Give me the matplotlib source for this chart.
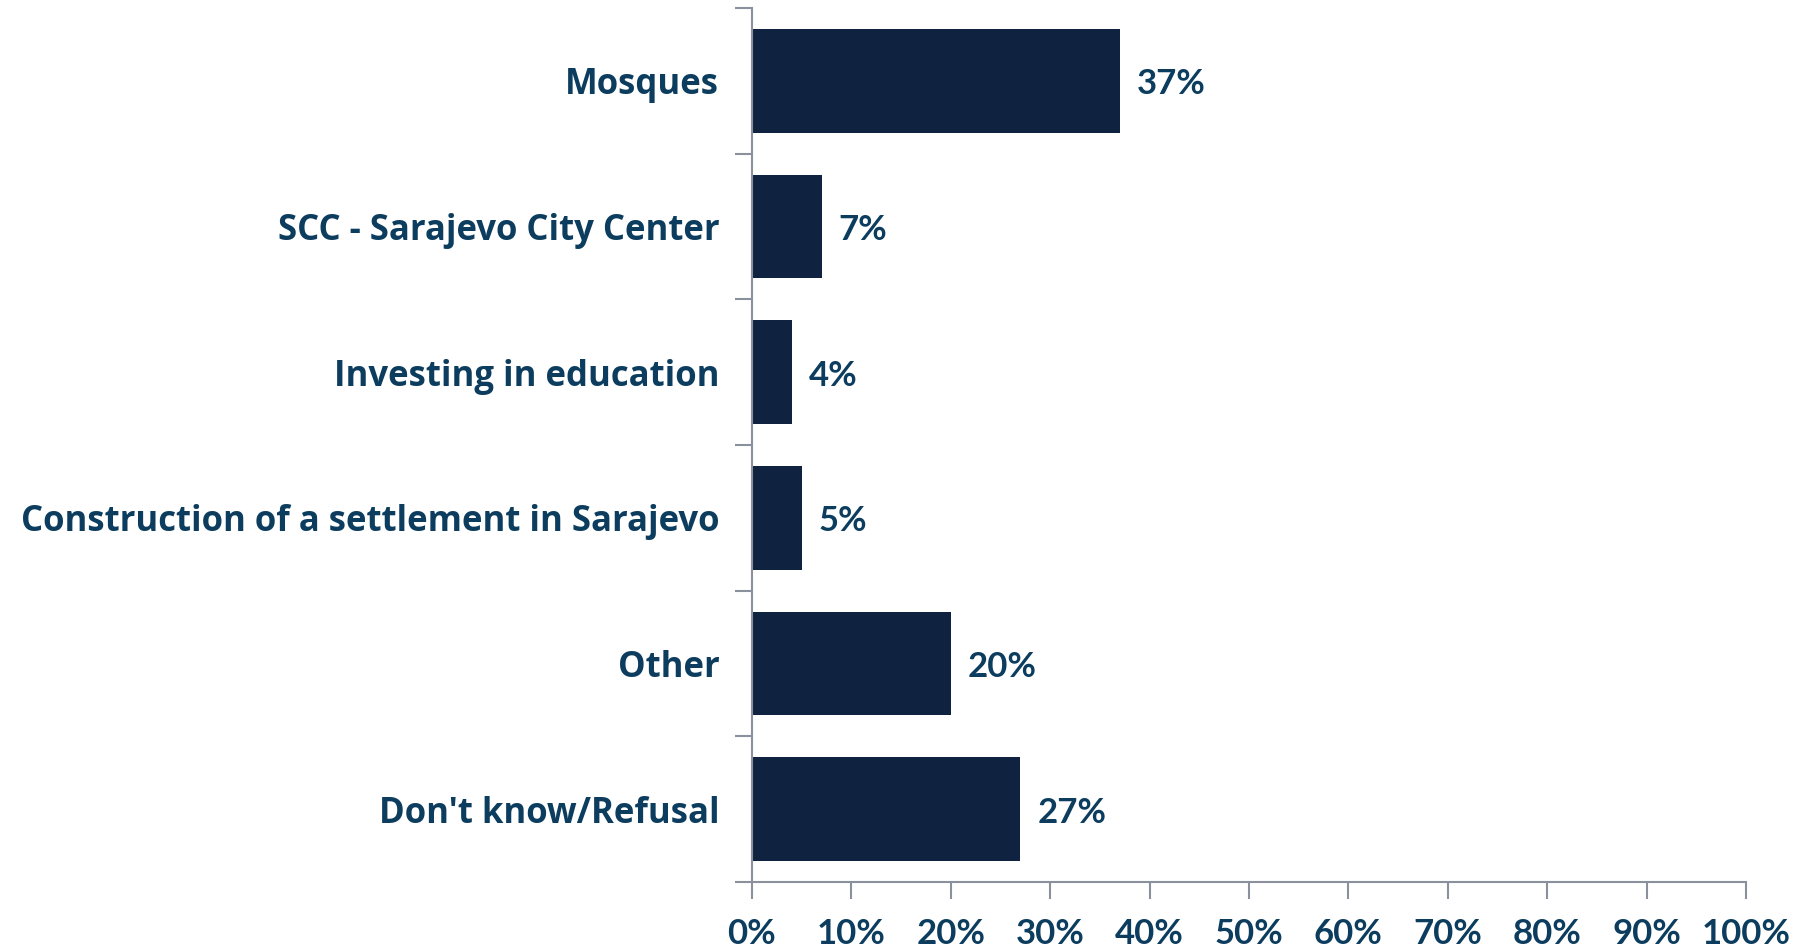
import matplotlib
matplotlib.use("Agg")
import matplotlib.pyplot as plt
from matplotlib.ticker import FixedLocator, PercentFormatter

categories = [
    "Mosques",
    "SCC - Sarajevo City Center",
    "Investing in education",
    "Construction of a settlement in Sarajevo",
    "Other",
    "Don't know/Refusal",
]
values = [37, 7, 4, 5, 20, 27]
x_ticks = [0, 10, 20, 30, 40, 50, 60, 70, 80, 90, 100]

BAR = "#0f2340"
TEXT = "#0c3d5e"
AXIS = "#8a919c"
NUM_FONT = "Lato"
CAT_FONT = "Open Sans"

fig = plt.figure(figsize=(18.13, 9.48), dpi=100)
ax = fig.add_axes([752 / 1813, 1 - 882 / 948, (1746 - 752) / 1813, (882 - 8) / 948])

pos = list(range(len(categories)))
ax.barh(pos, values, height=0.71, color=BAR, zorder=2)

for p, v in zip(pos, values):
    ax.text(v + 1.7, p + 0.025, f"{v}%", va="center", ha="left", fontsize=25,
            fontweight="bold", color=TEXT, family=NUM_FONT)

ax.set_xlim(0, 100)
ax.set_ylim(len(categories) - 0.5, -0.5)

ax.set_yticks(pos)
ax.set_yticklabels(categories)
ax.yaxis.set_minor_locator(FixedLocator([i - 0.5 for i in range(len(categories) + 1)]))
ax.tick_params(axis="y", which="major", length=0, pad=23.5)
ax.tick_params(axis="y", which="minor", length=12, width=1.5, color=AXIS)

ax.xaxis.set_major_locator(FixedLocator(x_ticks))
ax.xaxis.set_major_formatter(PercentFormatter(decimals=0))
ax.tick_params(axis="x", which="major", length=12, width=1.5, color=AXIS, pad=14)

for lab in ax.get_yticklabels():
    lab.set_fontsize(25)
    lab.set_fontweight("bold")
    lab.set_color(TEXT)
    lab.set_family(CAT_FONT)
for lab in ax.get_xticklabels():
    lab.set_fontsize(25)
    lab.set_fontweight("bold")
    lab.set_color(TEXT)
    lab.set_family(NUM_FONT)

for s in ["top", "right"]:
    ax.spines[s].set_visible(False)
for s in ["left", "bottom"]:
    ax.spines[s].set_color(AXIS)
    ax.spines[s].set_linewidth(1.5)

fig.savefig("out.png", dpi=100, facecolor="white")
